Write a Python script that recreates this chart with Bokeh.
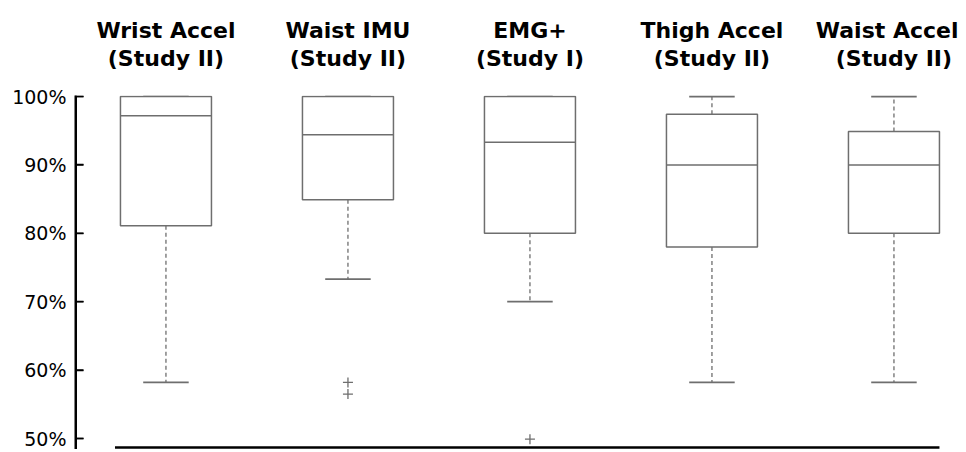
from bokeh.plotting import figure
from bokeh.models import Range1d, LinearAxis, FixedTicker, NumeralTickFormatter
from bokeh.embed import file_html
from bokeh.resources import INLINE

title_line1 = ["Wrist Accel", "Waist IMU", "EMG+", "Thigh Accel", "Waist Accel"]
title_line2 = ["(Study II)", "(Study II)", "(Study I)", "(Study II)", "(Study II)"]
positions = [1, 2, 3, 4, 5]
lower_whisker = [0.582, 0.733, 0.700, 0.582, 0.582]
q1 = [0.811, 0.849, 0.800, 0.780, 0.800]
median = [0.972, 0.944, 0.933, 0.900, 0.900]
q3 = [1.000, 1.000, 1.000, 0.974, 0.949]
upper_whisker = [1.000, 1.000, 1.000, 1.000, 1.000]
outlier_pos = [2, 2, 3]
outlier_val = [0.582, 0.565, 0.499]
y_ticks = [0.5, 0.6, 0.7, 0.8, 0.9, 1.0]

GRAY = "#6e6e6e"
BOX_W = 0.5
CAP_W = 0.25
PX_Y = 684
PX_X = 182

FRAME_H = 354
y_end = 1.0 + 1 / PX_Y
y_start = y_end - FRAME_H / PX_Y
x_start = 0.503
x_end = x_start + 883 / PX_X

p = figure(frame_width=883, frame_height=FRAME_H,
           min_border_left=75, min_border_top=95, min_border_right=0, min_border_bottom=0,
           x_range=Range1d(x_start, x_end), y_range=Range1d(y_start, y_end),
           x_axis_location=None, y_axis_location=None,
           output_backend="svg", toolbar_location=None)
p.outline_line_color = None
p.grid.visible = False
p.background_fill_color = None
p.border_fill_color = None

# y axis
ya = LinearAxis(ticker=FixedTicker(ticks=y_ticks),
                formatter=NumeralTickFormatter(format="0%"))
ya.axis_line_width = 2
ya.axis_line_color = "black"
ya.major_tick_in = 8
ya.major_tick_out = 0
ya.major_tick_line_width = 1.5
ya.major_tick_line_color = "black"
ya.major_label_text_font = "DejaVu Sans"
ya.major_label_text_font_size = "19px"
ya.major_label_text_color = "black"
ya.major_label_standoff = 9
p.add_layout(ya, "left")


def title_axis(labels, standoff):
    ax = LinearAxis(ticker=FixedTicker(ticks=positions),
                    major_label_overrides={pos: lab for pos, lab in zip(positions, labels)})
    ax.axis_line_color = None
    ax.major_tick_line_color = None
    ax.minor_tick_line_color = None
    ax.major_tick_in = 0
    ax.major_tick_out = 0
    ax.major_label_text_font = "DejaVu Sans"
    ax.major_label_text_font_style = "bold"
    ax.major_label_text_font_size = "22px"
    ax.major_label_text_color = "black"
    ax.major_label_text_align = "center"
    ax.major_label_standoff = standoff
    return ax


# category titles: second line nearest the plot, first line above it
p.add_layout(title_axis(title_line2, 25), "above")
p.add_layout(title_axis(title_line1, 0), "above")

# axis rule and inward ticks along the frame's left edge
axis_x = x_start + 0.5 / PX_X
p.segment(x0=[axis_x], y0=[y_start], x1=[axis_x], y1=[max(y_ticks)],
          line_color="black", line_width=2)
p.scatter(x=[x_start] * len(y_ticks), y=y_ticks, marker="dash", size=16,
          line_color="black", line_width=1.5)

# bottom baseline
base_y = y_start + 2 / PX_Y
p.segment(x0=[positions[0] - 0.28], y0=[base_y], x1=[positions[-1] + BOX_W / 2], y1=[base_y],
          line_color="black", line_width=2.5)

# whiskers (dashed)
p.segment(x0=positions, y0=q3, x1=positions, y1=upper_whisker,
          line_color=GRAY, line_width=1.3, line_dash="4 3")
p.segment(x0=positions, y0=q1, x1=positions, y1=lower_whisker,
          line_color=GRAY, line_width=1.3, line_dash="4 3")
# caps
cap_l = [x - CAP_W / 2 for x in positions]
cap_r = [x + CAP_W / 2 for x in positions]
p.segment(x0=cap_l, y0=upper_whisker, x1=cap_r, y1=upper_whisker, line_color=GRAY, line_width=1.8)
p.segment(x0=cap_l, y0=lower_whisker, x1=cap_r, y1=lower_whisker, line_color=GRAY, line_width=1.8)
# boxes
p.vbar(x=positions, width=BOX_W, bottom=q1, top=q3,
       fill_color="white", line_color=GRAY, line_width=1.5)
# medians
box_l = [x - BOX_W / 2 for x in positions]
box_r = [x + BOX_W / 2 for x in positions]
p.segment(x0=box_l, y0=median, x1=box_r, y1=median, line_color=GRAY, line_width=1.5)
# outliers
p.scatter(x=outlier_pos, y=outlier_val, marker="cross", size=10,
          line_color=GRAY, line_width=1.3)

open("out.html", "w").write(file_html(p, INLINE))
